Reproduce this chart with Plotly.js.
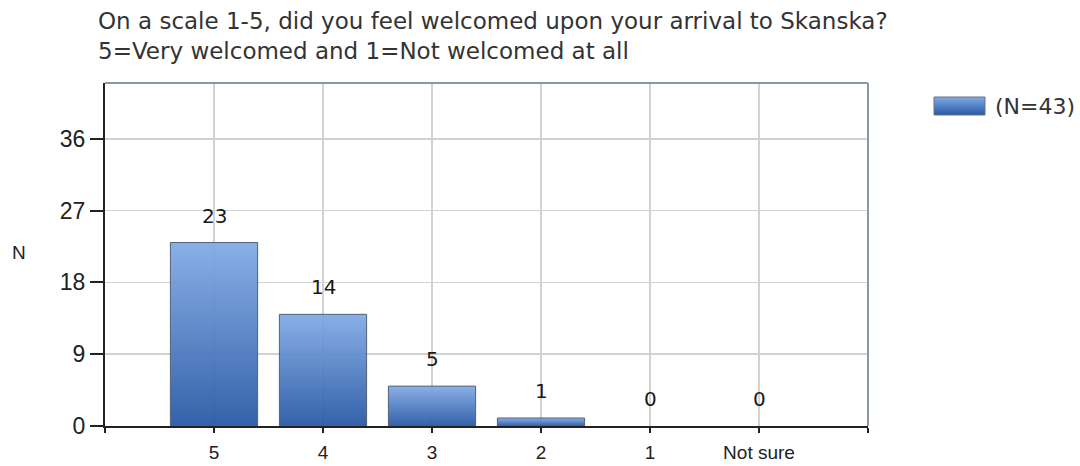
<!DOCTYPE html>
<html>
<head>
<meta charset="utf-8">
<script src="https://cdn.plot.ly/plotly-3.0.1.min.js"></script>
<style>
  html, body { margin: 0; padding: 0; background: #fff; }
  #chart { width: 1080px; height: 466px; }
</style>
</head>
<body>
<div id="chart"></div>
<script>
// Survey answers: how welcomed people felt on arrival
const categories = ['5', '4', '3', '2', '1', 'Not sure'];
const counts = [23, 14, 5, 1, 0, 0];
const seriesName = '(N=43)';
const titleLines = [
  'On a scale 1-5, did you feel welcomed upon your arrival to Skanska?',
  '5=Very welcomed and 1=Not welcomed at all'
];
const yTicks = [0, 9, 18, 27, 36];

const xIdx = categories.map((_, i) => i);

// Tick positions include the two outer edges of the axis (drawn without text)
const xTickVals = [-1].concat(xIdx, [categories.length]);
const xTickText = [''].concat(categories, ['']);

const trace = {
  type: 'bar',
  x: xIdx,
  y: counts,
  name: seriesName,
  width: 0.8,
  showlegend: false,
  hoverinfo: 'skip',
  marker: {
    color: '#4f7fc4',
    opacity: 0.94,
    // empty bars get no outline
    line: { color: '#4a5870', width: counts.map(v => (v > 0 ? 1 : 0)) }
  }
};

// Value labels sit a fixed distance above each bar
const valueLabels = counts.map((v, i) => ({
  x: i, y: v, xref: 'x', yref: 'y',
  text: String(v), showarrow: false,
  yshift: 27,
  font: { family: 'DejaVu Sans, Verdana, sans-serif', size: 20, color: '#1a1a1a' }
}));

const titleAnnots = titleLines.map((t, k) => ({
  xref: 'paper', yref: 'paper', x: -9 / 763, xanchor: 'left',
  y: 1 + (62 - 30 * k) / 343, yanchor: 'middle',
  text: t, showarrow: false,
  font: { family: 'DejaVu Sans, Verdana, sans-serif', size: 23, color: '#333' }
}));

const otherAnnots = [
  {
    xref: 'paper', yref: 'paper', x: -86 / 763, y: (426 - 252) / 343,
    xanchor: 'center', yanchor: 'middle', text: 'N', showarrow: false,
    font: { family: 'Liberation Sans, Arial, sans-serif', size: 19, color: '#222' }
  },
  {
    xref: 'paper', yref: 'paper', x: (993 - 105) / 763, y: (426 - 106) / 343,
    xanchor: 'left', yanchor: 'middle', text: seriesName, showarrow: false,
    font: { family: 'DejaVu Sans, Verdana, sans-serif', size: 22, color: '#333' }
  }
];

const layout = {
  width: 1080,
  height: 466,
  margin: { l: 105, r: 212, t: 83, b: 40 },
  paper_bgcolor: '#fff',
  plot_bgcolor: '#fff',
  showlegend: false,
  xaxis: {
    type: 'linear',
    range: [-1, categories.length],
    tickmode: 'array',
    tickvals: xTickVals,
    ticktext: xTickText,
    showgrid: true,
    gridcolor: '#d2d2d2',
    gridwidth: 1.5,
    zeroline: false,
    showline: true,
    linecolor: '#222',
    linewidth: 2,
    ticks: 'outside',
    ticklen: 5,
    tickwidth: 2,
    tickcolor: '#222',
    ticklabelstandoff: 3,
    tickfont: { family: 'Liberation Sans, Arial, sans-serif', size: 19, color: '#222' },
    fixedrange: true
  },
  yaxis: {
    range: [0, 43],
    tickmode: 'array',
    tickvals: yTicks,
    showgrid: true,
    gridcolor: '#d2d2d2',
    gridwidth: 1.5,
    zeroline: false,
    showline: true,
    linecolor: '#222',
    linewidth: 2,
    ticks: 'outside',
    ticklen: 13,
    tickwidth: 2,
    tickcolor: '#222',
    ticklabelstandoff: 0,
    tickfont: { family: 'Liberation Sans, Arial, sans-serif', size: 23, color: '#222' },
    fixedrange: true
  },
  shapes: [
    // top and right frame lines
    { type: 'line', xref: 'paper', yref: 'paper', x0: 0, x1: 1, y0: 1, y1: 1,
      line: { color: '#8b97a8', width: 2 } },
    { type: 'line', xref: 'paper', yref: 'paper', x0: 1, x1: 1, y0: 0, y1: 1,
      line: { color: '#8b97a8', width: 2 } },
    // legend swatch
    { type: 'rect', xref: 'paper', yref: 'paper',
      x0: (934 - 105) / 763, x1: (985 - 105) / 763,
      y0: (426 - 115) / 343, y1: (426 - 97) / 343,
      fillcolor: '#4f7fc4', line: { color: '#6b7380', width: 1 } }
  ],
  annotations: titleAnnots.concat(valueLabels, otherAnnots)
};

Plotly.newPlot('chart', [trace], layout, { displayModeBar: false, staticPlot: true }).then(gd => {
  // vertical light-to-dark blue fill for the bars and the legend swatch
  const svg = gd.querySelector('.main-svg');
  const ns = 'http://www.w3.org/2000/svg';
  let defs = svg.querySelector('defs');
  if (!defs) { defs = document.createElementNS(ns, 'defs'); svg.insertBefore(defs, svg.firstChild); }
  const grad = document.createElementNS(ns, 'linearGradient');
  grad.setAttribute('id', 'barFill');
  grad.setAttribute('x1', '0'); grad.setAttribute('y1', '0');
  grad.setAttribute('x2', '0'); grad.setAttribute('y2', '1');
  [['0%', '#82abe6'], ['100%', '#2858a5']].forEach(([o, c]) => {
    const s = document.createElementNS(ns, 'stop');
    s.setAttribute('offset', o); s.setAttribute('stop-color', c);
    grad.appendChild(s);
  });
  defs.appendChild(grad);
  gd.querySelectorAll('.bars .point path').forEach(p => { p.style.fill = 'url(#barFill)'; });
  const shapePaths = gd.querySelectorAll('.shapelayer path');
  const swatch = shapePaths[shapePaths.length - 1];
  if (swatch) swatch.style.fill = 'url(#barFill)';
});
</script>
</body>
</html>
